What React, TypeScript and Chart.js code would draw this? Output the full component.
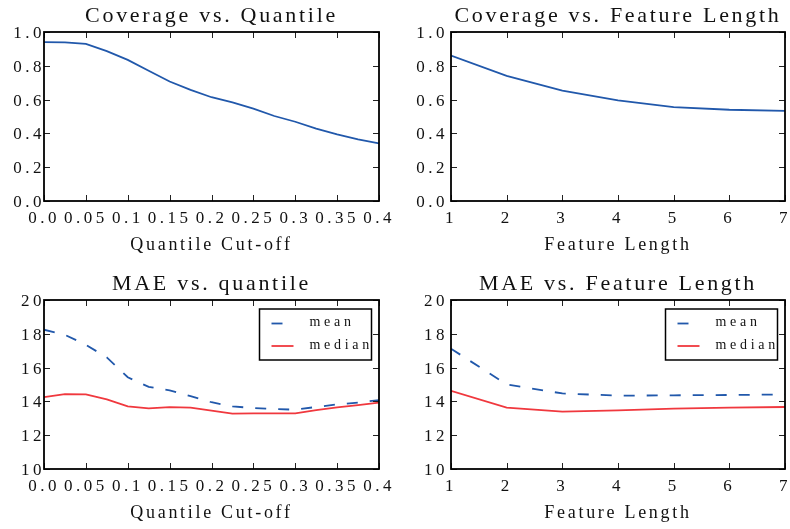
import React, { useEffect, useRef } from 'react';
import { Chart, registerables } from 'chart.js';

Chart.register(...registerables);

// ---- data ----
const quantileCutoffs = [0, 0.025, 0.05, 0.075, 0.1, 0.125, 0.15, 0.175, 0.2, 0.225, 0.25, 0.275, 0.3, 0.325, 0.35, 0.375, 0.4];
const coverageByQuantile = [0.94, 0.939, 0.93, 0.887, 0.835, 0.771, 0.707, 0.658, 0.614, 0.584, 0.547, 0.503, 0.469, 0.428, 0.394, 0.365, 0.341];
const maeMeanByQuantile = [18.24, 17.94, 17.35, 16.6, 15.43, 14.86, 14.65, 14.31, 13.95, 13.7, 13.61, 13.55, 13.51, 13.67, 13.82, 13.93, 14.08];
const maeMedianByQuantile = [14.25, 14.43, 14.41, 14.12, 13.71, 13.59, 13.66, 13.63, 13.46, 13.28, 13.29, 13.29, 13.29, 13.49, 13.65, 13.78, 13.93];

const featureLengths = [1, 2, 3, 4, 5, 6, 7];
const coverageByLength = [0.86, 0.741, 0.653, 0.596, 0.556, 0.54, 0.533];
const maeMeanByLength = [17.12, 15.0, 14.47, 14.34, 14.36, 14.38, 14.41];
const maeMedianByLength = [14.62, 13.63, 13.4, 13.47, 13.57, 13.63, 13.67];

// ---- tick values and labels ----
const quantileTickValues = [0, 0.05, 0.1, 0.15, 0.2, 0.25, 0.3, 0.35, 0.4];
const quantileTickLabels = ['0.0', '0.05', '0.1', '0.15', '0.2', '0.25', '0.3', '0.35', '0.4'];
const lengthTickValues = [1, 2, 3, 4, 5, 6, 7];
const lengthTickLabels = ['1', '2', '3', '4', '5', '6', '7'];
const coverageTickValues = [0, 0.2, 0.4, 0.6, 0.8, 1.0];
const coverageTickLabels = ['0.0', '0.2', '0.4', '0.6', '0.8', '1.0'];
const maeTickValues = [10, 12, 14, 16, 18, 20];
const maeTickLabels = ['10', '12', '14', '16', '18', '20'];

// ---- styling ----
const SERIF = '"Liberation Serif", "Times New Roman", Times, serif';
const BLUE = '#2158ab';
const RED = '#f0383e';
const INK = '#111111';
const TITLE_SPACING = '2.7px';
const TICK_SPACING = '3.5px';
const LEGEND_SPACING = '3.7px';
const TICK_LEN = 6;

const CANVAS_W = 395;
const CANVAS_H = 261;

type Series = { label: string; xs: number[]; ys: number[]; color: string; dash?: number[] };

type PanelProps = {
  left: number;
  top: number;
  plotLeft: number;
  plotRight: number;
  title: string;
  xTitle: string;
  xRange: [number, number];
  yRange: [number, number];
  xTickValues: number[];
  xTickLabels: string[];
  yTickValues: number[];
  yTickLabels: string[];
  yTickPadding: number;
  series: Series[];
  showLegend: boolean;
};

const labelFor = (values: number[], labels: string[]) => (v: number) => {
  const i = values.findIndex((t) => Math.abs(t - v) < 1e-9);
  return i >= 0 ? labels[i] : '';
};

// Title and axis-title text is drawn before the datasets, tick labels after them,
// so the letter spacing can be switched between the two passes.
const textSpacing = {
  id: 'textSpacing',
  beforeUpdate(chart: any) {
    chart.ctx.letterSpacing = TITLE_SPACING;
  },
  beforeDraw(chart: any) {
    chart.ctx.letterSpacing = TITLE_SPACING;
  },
  afterDatasetsDraw(chart: any) {
    chart.ctx.letterSpacing = TICK_SPACING;
  },
};

// Boxed axes with inward tick marks on all four sides.
const axesFrame = {
  id: 'axesFrame',
  afterDatasetsDraw(chart: any) {
    const { ctx, chartArea: a, scales } = chart;
    ctx.save();
    ctx.setLineDash([]);
    ctx.strokeStyle = '#222';
    ctx.lineWidth = 1;
    ctx.beginPath();
    for (const t of scales.x.ticks) {
      const px = Math.round(scales.x.getPixelForValue(t.value)) + 0.5;
      ctx.moveTo(px, a.bottom);
      ctx.lineTo(px, a.bottom - TICK_LEN);
      ctx.moveTo(px, a.top);
      ctx.lineTo(px, a.top + TICK_LEN);
    }
    for (const t of scales.y.ticks) {
      const py = Math.round(scales.y.getPixelForValue(t.value)) + 0.5;
      ctx.moveTo(a.left, py);
      ctx.lineTo(a.left + TICK_LEN, py);
      ctx.moveTo(a.right, py);
      ctx.lineTo(a.right - TICK_LEN, py);
    }
    ctx.stroke();
    ctx.strokeStyle = '#000';
    ctx.lineWidth = 1.8;
    ctx.strokeRect(a.left, a.top, a.right - a.left, a.bottom - a.top);
    ctx.restore();
  },
};

// Framed legend in the upper-right corner of the axes.
const boxLegend = {
  id: 'boxLegend',
  afterDraw(chart: any, _args: any, opts: any) {
    if (!opts || !opts.display) return;
    const { ctx, chartArea: a } = chart;
    const w = 112;
    const h = 51;
    const x0 = a.right - 7.5 - w;
    const y0 = a.top + 9;
    ctx.save();
    ctx.fillStyle = '#fff';
    ctx.fillRect(x0, y0, w, h);
    ctx.strokeStyle = '#000';
    ctx.lineWidth = 1.5;
    ctx.strokeRect(x0, y0, w, h);
    chart.data.datasets.forEach((ds: any, i: number) => {
      const y = y0 + 14.5 + i * 22.5;
      ctx.strokeStyle = ds.borderColor;
      ctx.lineWidth = ds.borderWidth;
      ctx.setLineDash(ds.borderDash || []);
      ctx.beginPath();
      ctx.moveTo(x0 + 12, y);
      ctx.lineTo(x0 + 34, y);
      ctx.stroke();
      ctx.setLineDash([]);
      ctx.letterSpacing = LEGEND_SPACING;
      ctx.font = `14px ${SERIF}`;
      ctx.fillStyle = INK;
      ctx.textAlign = 'left';
      ctx.textBaseline = 'middle';
      ctx.fillText(ds.label, x0 + 50, y - 1);
    });
    ctx.restore();
  },
};

function Panel(p: PanelProps) {
  const ref = useRef<HTMLCanvasElement | null>(null);

  useEffect(() => {
    if (!ref.current) return;
    const datasets = p.series.map((s) => ({
      label: s.label,
      data: s.xs.map((x, i) => ({ x, y: s.ys[i] })),
      borderColor: s.color,
      backgroundColor: s.color,
      borderWidth: 1.8,
      borderDash: s.dash || [],
      pointRadius: 0,
      tension: 0,
      fill: false,
    }));

    const tickFont = { family: SERIF, size: 17, weight: 'normal' as const };

    const chart = new Chart(ref.current, {
      type: 'line',
      data: { datasets },
      plugins: [textSpacing, axesFrame, boxLegend],
      options: {
        animation: false,
        responsive: false,
        layout: { padding: { left: 0, right: CANVAS_W - p.plotRight, top: 0, bottom: 0 } },
        plugins: {
          legend: { display: false },
          tooltip: { enabled: false },
          title: {
            display: true,
            text: p.title,
            fullSize: false,
            color: INK,
            font: { family: SERIF, size: 22, weight: 'normal' },
            padding: { top: 3.4, bottom: 2.2 },
          },
          boxLegend: { display: p.showLegend },
        } as any,
        scales: {
          x: {
            type: 'linear',
            min: p.xRange[0],
            max: p.xRange[1],
            grid: { display: false, drawTicks: false },
            border: { display: false },
            afterBuildTicks: (s: any) => {
              s.ticks = p.xTickValues.map((v) => ({ value: v }));
            },
            ticks: {
              z: 1,
              padding: 7,
              color: INK,
              font: tickFont,
              autoSkip: false,
              maxRotation: 0,
              callback: labelFor(p.xTickValues, p.xTickLabels),
            },
            title: {
              display: true,
              text: p.xTitle,
              color: INK,
              font: { family: SERIF, size: 18, weight: 'normal' },
              padding: { top: 0, bottom: 5.2 },
            },
            afterFit: (s: any) => {
              s.height = CANVAS_H - 201;
              s.paddingLeft = 0;
              s.paddingRight = 0;
            },
          },
          y: {
            type: 'linear',
            min: p.yRange[0],
            max: p.yRange[1],
            grid: { display: false, drawTicks: false },
            border: { display: false },
            afterBuildTicks: (s: any) => {
              s.ticks = p.yTickValues.map((v) => ({ value: v }));
            },
            ticks: {
              z: 1,
              padding: p.yTickPadding,
              labelOffset: 1.5,
              color: INK,
              font: tickFont,
              autoSkip: false,
              callback: labelFor(p.yTickValues, p.yTickLabels),
            },
            afterFit: (s: any) => {
              s.width = p.plotLeft;
              s.paddingTop = 0;
              s.paddingBottom = 0;
            },
          },
        } as any,
      },
    } as any);

    return () => chart.destroy();
  }, []);

  return (
    <canvas
      ref={ref}
      width={CANVAS_W}
      height={CANVAS_H}
      style={{ position: 'absolute', left: p.left, top: p.top, width: CANVAS_W, height: CANVAS_H, display: 'block' }}
    />
  );
}

export default function App() {
  return (
    <div style={{ position: 'absolute', left: 0, top: 0, width: 790, height: 529, background: '#fff', overflow: 'hidden' }}>
      <Panel
        left={0}
        top={0}
        plotLeft={44}
        plotRight={379}
        title="Coverage vs. Quantile"
        xTitle="Quantile Cut-off"
        xRange={[0, 0.4]}
        yRange={[0, 1]}
        xTickValues={quantileTickValues}
        xTickLabels={quantileTickLabels}
        yTickValues={coverageTickValues}
        yTickLabels={coverageTickLabels}
        yTickPadding={-1}
        series={[{ label: 'coverage', xs: quantileCutoffs, ys: coverageByQuantile, color: BLUE }]}
        showLegend={false}
      />
      <Panel
        left={395}
        top={0}
        plotLeft={56}
        plotRight={390}
        title="Coverage vs. Feature Length"
        xTitle="Feature Length"
        xRange={[1, 7]}
        yRange={[0, 1]}
        xTickValues={lengthTickValues}
        xTickLabels={lengthTickLabels}
        yTickValues={coverageTickValues}
        yTickLabels={coverageTickLabels}
        yTickPadding={3}
        series={[{ label: 'coverage', xs: featureLengths, ys: coverageByLength, color: BLUE }]}
        showLegend={false}
      />
      <Panel
        left={0}
        top={268}
        plotLeft={44}
        plotRight={379}
        title="MAE vs. quantile"
        xTitle="Quantile Cut-off"
        xRange={[0, 0.4]}
        yRange={[10, 20]}
        xTickValues={quantileTickValues}
        xTickLabels={quantileTickLabels}
        yTickValues={maeTickValues}
        yTickLabels={maeTickLabels}
        yTickPadding={-1}
        series={[
          { label: 'mean', xs: quantileCutoffs, ys: maeMeanByQuantile, color: BLUE, dash: [11, 12] },
          { label: 'median', xs: quantileCutoffs, ys: maeMedianByQuantile, color: RED },
        ]}
        showLegend={true}
      />
      <Panel
        left={395}
        top={268}
        plotLeft={56}
        plotRight={390}
        title="MAE vs. Feature Length"
        xTitle="Feature Length"
        xRange={[1, 7]}
        yRange={[10, 20]}
        xTickValues={lengthTickValues}
        xTickLabels={lengthTickLabels}
        yTickValues={maeTickValues}
        yTickLabels={maeTickLabels}
        yTickPadding={3}
        series={[
          { label: 'mean', xs: featureLengths, ys: maeMeanByLength, color: BLUE, dash: [11, 12] },
          { label: 'median', xs: featureLengths, ys: maeMedianByLength, color: RED },
        ]}
        showLegend={true}
      />
    </div>
  );
}
